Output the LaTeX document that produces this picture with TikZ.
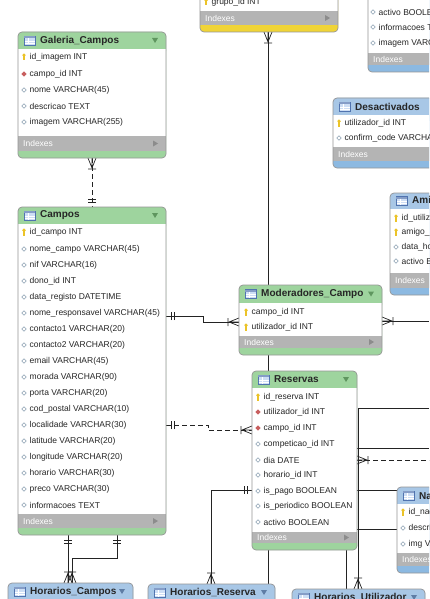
\documentclass[tikz,border=0pt]{standalone}
\usepackage{fontspec}
\setmainfont{Liberation Sans}
\usetikzlibrary{fit}
\definecolor{ghead}{RGB}{158,212,158}
\definecolor{gtri}{RGB}{95,150,95}
\definecolor{bhead}{RGB}{168,199,230}
\definecolor{bstrip}{RGB}{140,185,225}
\definecolor{btri}{RGB}{95,125,165}
\definecolor{yhead}{RGB}{245,222,90}
\definecolor{ystrip}{RGB}{240,212,55}
\definecolor{idxgray}{RGB}{180,180,180}
\definecolor{boxline}{RGB}{150,150,150}
\definecolor{keyy}{RGB}{235,195,40}
\definecolor{fkred}{RGB}{200,95,95}
\definecolor{colic}{RGB}{140,160,178}
\definecolor{relc}{RGB}{35,35,35}
\definecolor{iconfill}{RGB}{205,222,245}
\definecolor{iconline}{RGB}{80,115,175}
\newcounter{rowc}
% name, x1, y1, x2, y2, header bottom, indexes top, header colour, strip colour
\newcommand\erbox[9]{%
  \fill[#9,rounded corners=4pt] (#2,#3) rectangle (#4,#5);
  \fill[#8,rounded corners=4pt] (#2,#3) rectangle (#4,{#6+6});
  \fill[white] (#2,#6) rectangle (#4,#7);
  \fill[idxgray] (#2,#7) rectangle (#4,{#5-7});
  \draw[boxline,rounded corners=4pt,line width=0.7pt] (#2,#3) rectangle (#4,#5);
  \node[fit={(#2,#3) (#4,#5)},inner sep=0pt] (#1) {};
  \pgfmathsetmacro\im{(#7+#5-7)/2}
  \node[idxtxt] (#1-idx) at ({#2+5},\im) {Indexes};
  \fill[black!45] ({#4-13},{\im-3}) -- ({#4-13},{\im+3}) -- ({#4-8},\im) -- cycle;
}
% name, x1, y1, x2, header bottom, title, triangle colour
\newcommand\erhead[7]{%
  \pgfmathsetmacro\hm{(#3+#5)/2}
  \filldraw[fill=iconfill,draw=iconline,line width=0.5pt] ({#2+6},{\hm-4.5}) rectangle ({#2+17},{\hm+4.5});
  \fill[iconline!70] ({#2+6},{\hm-4.5}) rectangle ({#2+17},{\hm-2.5});
  \draw[white,line width=0.4pt] ({#2+6.5},{\hm+0.5}) -- ({#2+16.5},{\hm+0.5}) ({#2+6.5},{\hm+2.5}) -- ({#2+16.5},{\hm+2.5}) ({#2+10},{\hm-2.5}) -- ({#2+10},{\hm+4});
  \node[ttl] (#1-title) at ({#2+22},\hm) {#6};
  \fill[#7] ({#4-14},{\hm-2.5}) -- ({#4-8},{\hm-2.5}) -- ({#4-11},{\hm+2.5}) -- cycle;
}
\newcommand\rowtext[3]{\stepcounter{rowc}\edef\myrn{\arabic{rowc}}\node[rowtxt] (row\myrn) at ({#1+4.5},#2) {#3};}
\newcommand\pkrow[3]{%
  \fill[keyy] (#1,{#2-1.8}) circle (1.8);
  \fill[keyy] ({#1-0.6},{#2-1}) rectangle ({#1+0.6},{#2+3.5});
  \rowtext{#1}{#2}{#3}}
\newcommand\fkrow[3]{%
  \fill[fkred] (#1,{#2-2.6}) -- ({#1+2.6},#2) -- (#1,{#2+2.6}) -- ({#1-2.6},#2) -- cycle;
  \rowtext{#1}{#2}{#3}}
\newcommand\colrow[3]{%
  \draw[colic,line width=0.6pt] (#1,{#2-2.3}) -- ({#1+2.3},#2) -- (#1,{#2+2.3}) -- ({#1-2.3},#2) -- cycle;
  \rowtext{#1}{#2}{#3}}
% crow's foot with bar: edge point x,y ; outward direction dx,dy
\newcommand\crowm[4]{%
  \draw[relc,line width=0.7pt]
    ({#1+10*(#3)},{#2+10*(#4)}) -- ({#1-4*(#4)},{#2+4*(#3)})
    ({#1+10*(#3)},{#2+10*(#4)}) -- (#1,#2)
    ({#1+10*(#3)},{#2+10*(#4)}) -- ({#1+4*(#4)},{#2-4*(#3)})
    ({#1+11*(#3)-4*(#4)},{#2+11*(#4)+4*(#3)}) -- ({#1+11*(#3)+4*(#4)},{#2+11*(#4)-4*(#3)});
}
% one and only one
\newcommand\onem[4]{%
  \draw[relc,line width=0.7pt]
    ({#1+5*(#3)-4*(#4)},{#2+5*(#4)+4*(#3)}) -- ({#1+5*(#3)+4*(#4)},{#2+5*(#4)-4*(#3)})
    ({#1+8*(#3)-4*(#4)},{#2+8*(#4)+4*(#3)}) -- ({#1+8*(#3)+4*(#4)},{#2+8*(#4)-4*(#3)});
}
\begin{document}
\begin{tikzpicture}[x=1pt,y=-1pt,
  rowtxt/.style={anchor=west,inner sep=1pt,text=black!85,font=\fontsize{8.5}{10}\selectfont},
  ttl/.style={anchor=west,inner sep=0pt,text=black!85,font=\bfseries\fontsize{10}{12}\selectfont},
  idxtxt/.style={anchor=west,inner sep=0pt,text=white,font=\fontsize{8.5}{10}\selectfont},
  rel/.style={draw=relc,line width=0.7pt},
  reldash/.style={rel,dash pattern=on 5pt off 3pt}]
\useasboundingbox (0,0) rectangle (429,599);
\clip (0,0) rectangle (429,599);
\fill[white] (0,0) rectangle (429,599);

% ---- connector end points ----
\coordinate (gal-s) at (92,158);   \coordinate (cam-n) at (92,207);
\coordinate (cam-e1) at (166,316); \coordinate (k1) at (203,316); \coordinate (k2) at (203,322); \coordinate (mod-w) at (239,322);
\coordinate (cam-e2) at (166,425); \coordinate (k3) at (208,425); \coordinate (k4) at (208,430); \coordinate (res-w1) at (252,430);
\coordinate (cam-s1) at (68,535);  \coordinate (hc-n1) at (68,583);
\coordinate (cam-s2) at (117,535); \coordinate (k5) at (117,558); \coordinate (k6) at (72,558); \coordinate (hc-n2) at (72,583);
\coordinate (mod-e) at (382,321);  \coordinate (rt1) at (429,321);
\coordinate (grp-s) at (268,32);   \coordinate (hr-n1) at (268,584);
\coordinate (rt2) at (429,408);    \coordinate (k7) at (358,408); \coordinate (hu-n1) at (358,589);
\coordinate (res-e1) at (357,448); \coordinate (rt3) at (429,448);
\coordinate (res-e2) at (357,460); \coordinate (rt4) at (429,460);
\coordinate (res-e3) at (357,490); \coordinate (na-w1) at (397,490);
\coordinate (res-e4) at (357,529); \coordinate (na-w2) at (397,529);
\coordinate (res-s) at (346,550);  \coordinate (hu-n2) at (346,589);
\coordinate (res-w2) at (252,490); \coordinate (k8) at (211,490); \coordinate (hr-n2) at (211,584);

% ---- connectors ----
\draw[reldash] (gal-s) -- (cam-n);
\crowm{92}{158}{0}{1} \onem{92}{207}{0}{-1}
\draw[rel] (cam-e1) -- (k1) -- (k2) -- (mod-w);
\onem{166}{316}{1}{0} \crowm{239}{322}{-1}{0}
\draw[reldash] (cam-e2) -- (k3) -- (k4) -- (res-w1);
\onem{166}{425}{1}{0} \crowm{252}{430}{-1}{0}
\draw[rel] (cam-s1) -- (hc-n1);
\onem{68}{535}{0}{1} \crowm{68}{583}{0}{-1}
\draw[rel] (cam-s2) -- (k5) -- (k6) -- (hc-n2);
\onem{117}{535}{0}{1} \crowm{72}{583}{0}{-1}
\draw[rel] (mod-e) -- (rt1);
\crowm{382}{321}{1}{0}
\draw[rel] (grp-s) -- (hr-n1);
\crowm{268}{32}{0}{1}
\draw[rel] (rt2) -- (k7) -- (hu-n1);
\crowm{358}{589}{0}{-1}
\draw[rel] (res-e1) -- (rt3);
\draw[reldash] (res-e2) -- (rt4);
\crowm{357}{460}{1}{0}
\draw[rel] (res-e3) -- (na-w1);
\draw[rel] (res-e4) -- (na-w2);
\draw[rel] (res-s) -- (hu-n2);
\draw[rel] (res-w2) -- (k8) -- (hr-n2);
\onem{252}{490}{-1}{0} \crowm{211}{584}{0}{-1}

% ---- tables ----
\erbox{grupo}{200}{-40}{338}{32}{-22}{11}{yhead}{ystrip}
\pkrow{206}{2}{grupo\_id INT}

\erbox{topr}{368}{-40}{470}{72}{-22}{53}{bhead}{bstrip}
\colrow{373}{12}{activo BOOLEAN}
\colrow{373}{27}{informacoes TEXT}
\colrow{373}{43}{imagem VARCHAR(255)}

\erbox{galeria}{18}{32}{166}{158}{49}{136}{ghead}{ghead}
\erhead{galeria}{18}{32}{166}{49}{Galeria\_Campos}{gtri}
\pkrow{24}{57}{id\_imagem INT}
\fkrow{24}{74}{campo\_id INT}
\colrow{24}{90}{nome VARCHAR(45)}
\colrow{24}{106}{descricao TEXT}
\colrow{24}{122}{imagem VARCHAR(255)}

\erbox{desact}{333}{98}{470}{168}{115}{147}{bhead}{bstrip}
\erhead{desact}{333}{98}{470}{115}{Desactivados}{btri}
\pkrow{339}{123}{utilizador\_id INT}
\colrow{339}{138}{confirm\_code VARCHAR(45)}

\erbox{amigos}{390}{193}{480}{295}{209}{273}{bhead}{bstrip}
\erhead{amigos}{390}{193}{480}{209}{Amigos}{btri}
\pkrow{396}{218}{id\_utilizador INT}
\pkrow{396}{232}{amigo\_id INT}
\colrow{396}{247}{data\_hora DATETIME}
\colrow{396}{261}{activo BOOLEAN}

\erbox{campos}{18}{207}{166}{535}{224}{514}{ghead}{ghead}
\erhead{campos}{18}{207}{166}{224}{Campos}{gtri}
\pkrow{24}{232}{id\_campo INT}
\colrow{24}{249}{nome\_campo VARCHAR(45)}
\colrow{24}{265}{nif VARCHAR(16)}
\colrow{24}{281}{dono\_id INT}
\colrow{24}{297}{data\_registo DATETIME}
\colrow{24}{313}{nome\_responsavel VARCHAR(45)}
\colrow{24}{329}{contacto1 VARCHAR(20)}
\colrow{24}{345}{contacto2 VARCHAR(20)}
\colrow{24}{361}{email VARCHAR(45)}
\colrow{24}{377}{morada VARCHAR(90)}
\colrow{24}{393}{porta VARCHAR(20)}
\colrow{24}{409}{cod\_postal VARCHAR(10)}
\colrow{24}{425}{localidade VARCHAR(30)}
\colrow{24}{441}{latitude VARCHAR(20)}
\colrow{24}{457}{longitude VARCHAR(20)}
\colrow{24}{473}{horario VARCHAR(30)}
\colrow{24}{489}{preco VARCHAR(30)}
\colrow{24}{505}{informacoes TEXT}

\erbox{moder}{239}{285}{382}{355}{303}{336}{ghead}{ghead}
\erhead{moder}{239}{285}{382}{303}{Moderadores\_Campo}{gtri}
\pkrow{246}{312}{campo\_id INT}
\pkrow{246}{327}{utilizador\_id INT}

\erbox{reservas}{252}{371}{357}{550}{388}{532}{ghead}{ghead}
\erhead{reservas}{252}{371}{357}{388}{Reservas}{gtri}
\pkrow{258}{397}{id\_reserva INT}
\fkrow{258}{412}{utilizador\_id INT}
\fkrow{258}{428}{campo\_id INT}
\colrow{258}{444}{competicao\_id INT}
\colrow{258}{460}{dia DATE}
\colrow{258}{475}{horario\_id INT}
\colrow{258}{491}{is\_pago BOOLEAN}
\colrow{258}{506}{is\_periodico BOOLEAN}
\colrow{258}{522}{activo BOOLEAN}

\erbox{nac}{397}{487}{480}{573}{504}{553}{bhead}{bstrip}
\erhead{nac}{397}{487}{480}{504}{Nacionalidades}{btri}
\pkrow{403}{512}{id\_nacionalidade INT}
\colrow{403}{528}{descricao VARCHAR(45)}
\colrow{403}{544}{img VARCHAR(255)}

\erbox{hcampos}{8}{583}{133}{650}{600}{620}{bhead}{bstrip}
\erhead{hcampos}{8}{583}{133}{600}{Horarios\_Campos}{btri}
\erbox{hreserva}{148}{584}{275}{650}{601}{620}{bhead}{bstrip}
\erhead{hreserva}{148}{584}{275}{601}{Horarios\_Reserva}{btri}
\erbox{hutil}{292}{589}{425}{660}{606}{625}{bhead}{bstrip}
\erhead{hutil}{292}{589}{425}{606}{Horarios\_Utilizador}{btri}
\end{tikzpicture}
\end{document}
